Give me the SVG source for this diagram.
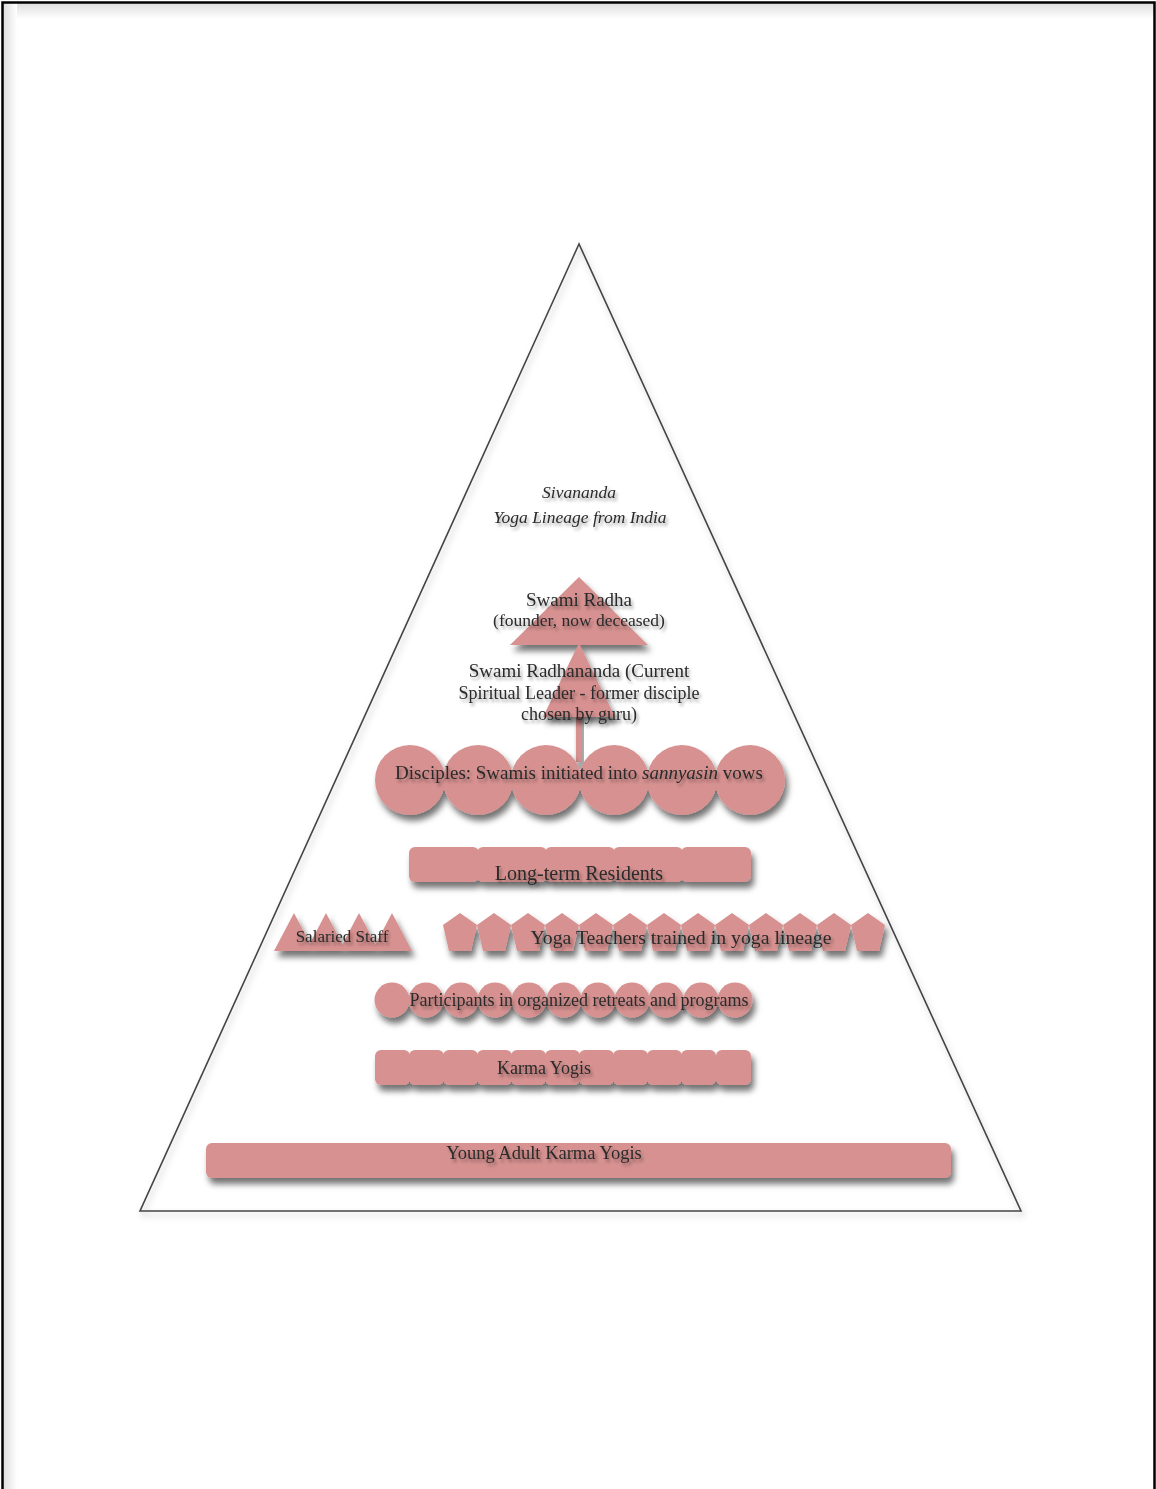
<svg xmlns="http://www.w3.org/2000/svg" width="1156" height="1489" viewBox="0 0 1156 1489">
<defs>
<filter id="sh" x="-20%" y="-40%" width="140%" height="200%">
<feDropShadow dx="3" dy="6" stdDeviation="3" flood-color="#000" flood-opacity="0.55"/>
</filter>
<filter id="tsh" x="-10%" y="-50%" width="120%" height="200%">
<feDropShadow dx="2" dy="3" stdDeviation="1.5" flood-color="#000" flood-opacity="0.35"/>
</filter>
<filter id="lsh" x="-10%" y="-10%" width="120%" height="120%">
<feDropShadow dx="2" dy="4" stdDeviation="3" flood-color="#000" flood-opacity="0.25"/>
</filter>
<linearGradient id="topg" x1="0" y1="0" x2="0" y2="1">
<stop offset="0" stop-color="#ddd"/>
<stop offset="1" stop-color="#fff"/>
</linearGradient>
<linearGradient id="leftg" x1="0" y1="0" x2="1" y2="0">
<stop offset="0" stop-color="#ddd"/>
<stop offset="1" stop-color="#fff"/>
</linearGradient>
</defs>
<style>
.f{fill:#d69190;}
.t{font-family:"Liberation Serif",serif;fill:#2a2a2a;text-anchor:middle;}
</style>
<rect x="0" y="0" width="1156" height="1489" fill="#fff"/>
<g id="page">
<rect x="3" y="3" width="1151" height="16" fill="url(#topg)"/>
<rect x="3" y="3" width="14" height="1486" fill="url(#leftg)"/>
<path d="M2.5 1489 V2.5 H1154.5 V1489" fill="none" stroke="#000" stroke-width="2.5"/>
</g>
<g id="pyramid">
<polygon points="579,244 140,1211 1021,1211" fill="none" stroke="#444" stroke-width="1.6" filter="url(#lsh)"/>
</g>
<g id="lineage" class="t" filter="url(#tsh)">
<text x="579" y="498" font-size="17.5" font-style="italic">Sivananda</text>
<text x="580" y="523" font-size="17.5" font-style="italic">Yoga Lineage from India</text>
</g>
<g id="connectors">
<rect x="576" y="712" width="6" height="50" class="f" filter="url(#sh)"/>
</g>
<g id="swami-radha">
<polygon class="f" points="579,577 648,645 510,645" filter="url(#sh)"/>
<g class="t" filter="url(#tsh)">
<text x="579" y="606" font-size="19">Swami Radha</text>
<text x="579" y="626" font-size="17.5">(founder, now deceased)</text>
</g>
</g>
<g id="swami-radhananda">
<polygon class="f" points="579,643 615,717 543,717" filter="url(#sh)"/>
<g class="t" filter="url(#tsh)">
<text x="579" y="677" font-size="19">Swami Radhananda (Current</text>
<text x="579" y="699" font-size="18">Spiritual Leader - former disciple</text>
<text x="579" y="720" font-size="18">chosen by guru)</text>
</g>
</g>
<g id="disciples">
<g class="f" filter="url(#sh)">
<circle cx="410" cy="780" r="35"/>
<circle cx="478" cy="780" r="35"/>
<circle cx="546" cy="780" r="35"/>
<circle cx="614" cy="780" r="35"/>
<circle cx="682" cy="780" r="35"/>
<circle cx="750" cy="780" r="35"/>
</g>
<text class="t" x="579" y="779" font-size="19" filter="url(#tsh)">Disciples: Swamis initiated into <tspan font-style="italic">sannyasin</tspan> vows</text>
</g>
<g id="residents">
<g class="f" filter="url(#sh)">
<rect x="409" y="847" width="70" height="35" rx="6"/>
<rect x="477" y="847" width="70" height="35" rx="6"/>
<rect x="545" y="847" width="70" height="35" rx="6"/>
<rect x="613" y="847" width="70" height="35" rx="6"/>
<rect x="681" y="847" width="70" height="35" rx="6"/>
</g>
<text class="t" x="579" y="880" font-size="20" filter="url(#tsh)">Long-term Residents</text>
</g>
<g id="salaried-staff">
<g class="f" filter="url(#sh)">
<polygon points="294,913 314,951 274,951"/>
<polygon points="326,913 346,951 306,951"/>
<polygon points="359,913 379,951 339,951"/>
<polygon points="392,913 412,951 372,951"/>
</g>
<text class="t" x="342" y="942" font-size="17" filter="url(#tsh)">Salaried Staff</text>
</g>
<g id="yoga-teachers">
<g class="f" filter="url(#sh)">
<polygon points="460,913 477,925 471,951 449,951 443,925"/>
<polygon points="494,913 511,925 505,951 483,951 477,925"/>
<polygon points="528,913 545,925 539,951 517,951 511,925"/>
<polygon points="562,913 579,925 573,951 551,951 545,925"/>
<polygon points="596,913 613,925 607,951 585,951 579,925"/>
<polygon points="630,913 647,925 641,951 619,951 613,925"/>
<polygon points="664,913 681,925 675,951 653,951 647,925"/>
<polygon points="698,913 715,925 709,951 687,951 681,925"/>
<polygon points="732,913 749,925 743,951 721,951 715,925"/>
<polygon points="766,913 783,925 777,951 755,951 749,925"/>
<polygon points="800,913 817,925 811,951 789,951 783,925"/>
<polygon points="834,913 851,925 845,951 823,951 817,925"/>
<polygon points="868,913 885,925 879,951 857,951 851,925"/>
</g>
<text class="t" x="681" y="944" font-size="19.8" filter="url(#tsh)">Yoga Teachers trained in yoga lineage</text>
</g>
<g id="participants">
<g class="f" filter="url(#sh)">
<circle cx="392" cy="1000" r="17.5"/>
<circle cx="426" cy="1000" r="17.5"/>
<circle cx="461" cy="1000" r="17.5"/>
<circle cx="495" cy="1000" r="17.5"/>
<circle cx="529" cy="1000" r="17.5"/>
<circle cx="564" cy="1000" r="17.5"/>
<circle cx="598" cy="1000" r="17.5"/>
<circle cx="632" cy="1000" r="17.5"/>
<circle cx="666" cy="1000" r="17.5"/>
<circle cx="701" cy="1000" r="17.5"/>
<circle cx="735" cy="1000" r="17.5"/>
</g>
<text class="t" x="579" y="1006" font-size="18" filter="url(#tsh)">Participants in organized retreats and programs</text>
</g>
<g id="karma-yogis">
<g class="f" filter="url(#sh)">
<rect x="375" y="1050" width="35" height="35" rx="6"/>
<rect x="409" y="1050" width="35" height="35" rx="6"/>
<rect x="443" y="1050" width="35" height="35" rx="6"/>
<rect x="477" y="1050" width="35" height="35" rx="6"/>
<rect x="511" y="1050" width="35" height="35" rx="6"/>
<rect x="545" y="1050" width="35" height="35" rx="6"/>
<rect x="579" y="1050" width="35" height="35" rx="6"/>
<rect x="613" y="1050" width="35" height="35" rx="6"/>
<rect x="647" y="1050" width="35" height="35" rx="6"/>
<rect x="681" y="1050" width="35" height="35" rx="6"/>
<rect x="716" y="1050" width="35" height="35" rx="6"/>
</g>
<text class="t" x="544" y="1074" font-size="18" filter="url(#tsh)">Karma Yogis</text>
</g>
<g id="young-adult-karma-yogis">
<rect class="f" x="206" y="1143" width="745" height="35" rx="6" filter="url(#sh)"/>
<text class="t" x="544" y="1159" font-size="18.5" filter="url(#tsh)">Young Adult Karma Yogis</text>
</g>
</svg>
